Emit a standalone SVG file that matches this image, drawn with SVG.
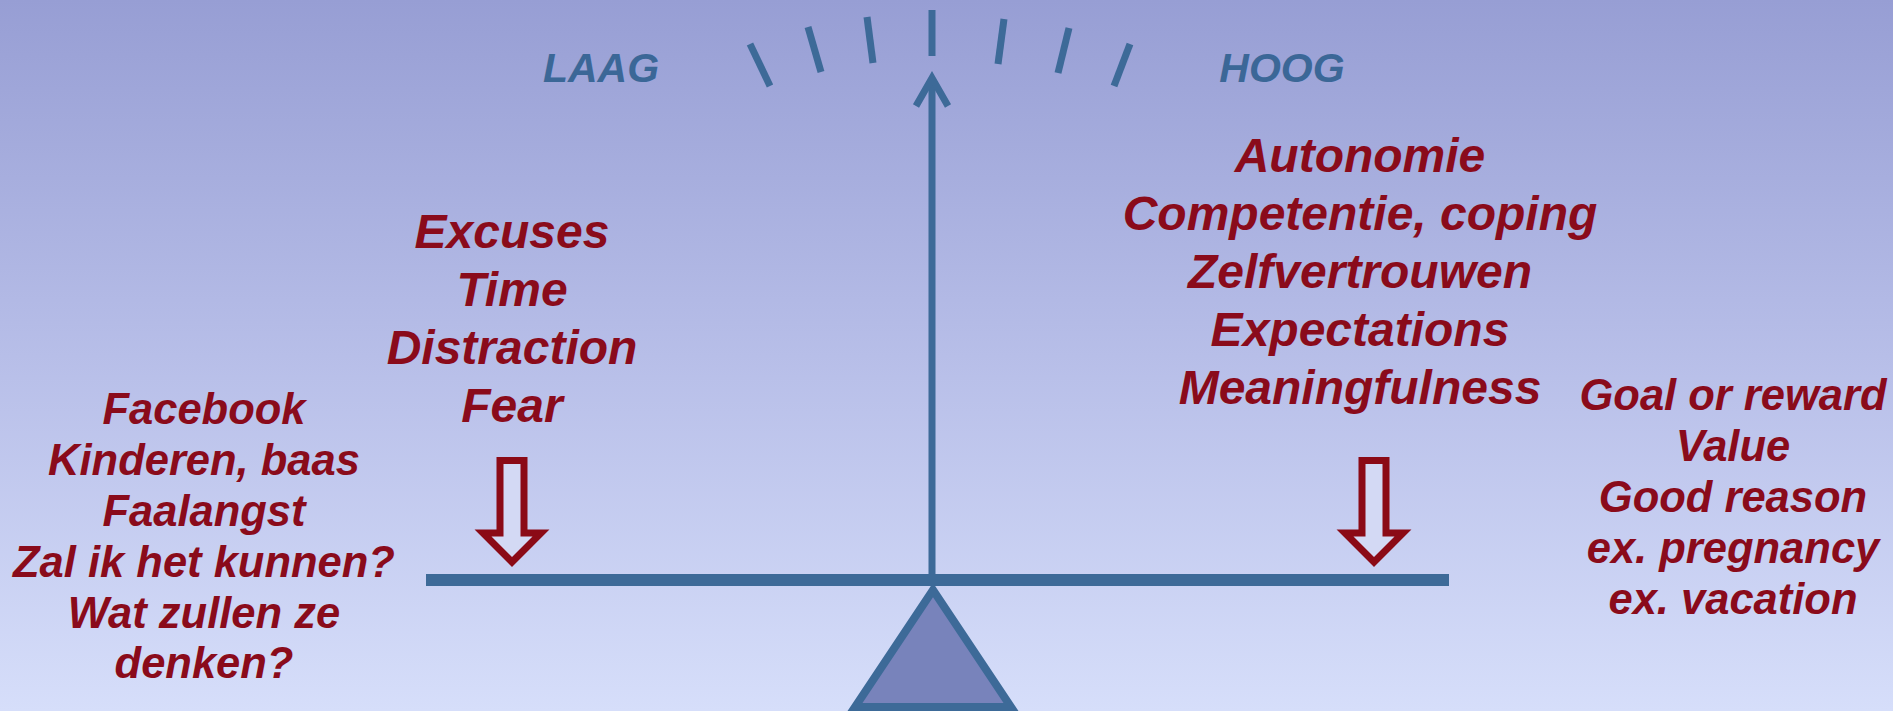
<svg xmlns="http://www.w3.org/2000/svg" width="1893" height="711" viewBox="0 0 1893 711">
  <defs>
    <linearGradient id="bg" x1="0" y1="0" x2="0" y2="1">
      <stop offset="0" stop-color="#979ed4"/>
      <stop offset="0.5" stop-color="#b7bee8"/>
      <stop offset="1" stop-color="#d6defa"/>
    </linearGradient>
    <style>
      .red { font-family: "Liberation Sans", Arial, sans-serif; font-weight: bold; font-style: italic; fill: #8a0b1b; text-anchor: middle; }
      .big { font-size: 48px; }
      .mid { font-size: 43.5px; }
      .blue { font-family: "Liberation Sans", Arial, sans-serif; font-weight: bold; font-style: italic; fill: #3b6797; text-anchor: middle; font-size: 41px; }
      .tick { stroke: #3d6a98; stroke-width: 7; stroke-linecap: butt; fill: none; }
      .bar { stroke: #3d6a98; fill: none; }
      .blk { fill: #d3d9f4; stroke: #8b0a16; stroke-width: 7; stroke-linejoin: miter; }
    </style>
  </defs>
  <rect x="0" y="0" width="1893" height="711" fill="url(#bg)"/>

  <g id="scale-ticks">
    <line class="tick" x1="750" y1="44" x2="770" y2="86"/>
    <line class="tick" x1="808" y1="27" x2="821" y2="72"/>
    <line class="tick" x1="867" y1="17" x2="873" y2="63"/>
    <line class="tick" x1="932" y1="10" x2="932" y2="56"/>
    <line class="tick" x1="1004" y1="19" x2="998" y2="64"/>
    <line class="tick" x1="1069" y1="28" x2="1058" y2="73"/>
    <line class="tick" x1="1130" y1="44" x2="1114" y2="86"/>
  </g>

  <g id="label-laag"><text class="blue" x="601" y="82">LAAG</text></g>
  <g id="label-hoog"><text class="blue" x="1282" y="82">HOOG</text></g>

  <g id="connectors">
    <line class="bar" x1="932" y1="80" x2="932" y2="576" stroke-width="7"/>
    <polyline class="bar" points="916,106 932,78 948,106" stroke-width="7" stroke-linejoin="miter"/>
  </g>

  <g id="fulcrum">
    <polygon points="933,590 855,707 1011,707" fill="#7883bb" stroke="#3d6a98" stroke-width="8" stroke-linejoin="miter"/>
  </g>

  <g id="beam">
    <line class="bar" x1="426" y1="580" x2="1449" y2="580" stroke-width="12"/>
  </g>

  <g id="arrow-left">
    <path class="blk" d="M500,460.5 L524,460.5 L524,533 L541,533 L512,562 L483,533 L500,533 Z"/>
  </g>
  <g id="arrow-right">
    <path class="blk" d="M1362,460.5 L1386,460.5 L1386,533 L1403,533 L1374,562 L1345,533 L1362,533 Z"/>
  </g>

  <g id="text-barriers">
    <text class="red big" x="512" y="248">Excuses</text>
    <text class="red big" x="512" y="306">Time</text>
    <text class="red big" x="512" y="364">Distraction</text>
    <text class="red big" x="512" y="422">Fear</text>
  </g>

  <g id="text-examples-left">
    <text class="red mid" x="204" y="424">Facebook</text>
    <text class="red mid" x="204" y="475">Kinderen, baas</text>
    <text class="red mid" x="204" y="526">Faalangst</text>
    <text class="red mid" x="204" y="577">Zal ik het kunnen?</text>
    <text class="red mid" x="204" y="628">Wat zullen ze</text>
    <text class="red mid" x="204" y="678">denken?</text>
  </g>

  <g id="text-motivators">
    <text class="red big" x="1360" y="172">Autonomie</text>
    <text class="red big" x="1360" y="230">Competentie, coping</text>
    <text class="red big" x="1360" y="288">Zelfvertrouwen</text>
    <text class="red big" x="1360" y="346">Expectations</text>
    <text class="red big" x="1360" y="404">Meaningfulness</text>
  </g>

  <g id="text-examples-right">
    <text class="red mid" x="1733" y="410">Goal or reward</text>
    <text class="red mid" x="1733" y="461">Value</text>
    <text class="red mid" x="1733" y="512">Good reason</text>
    <text class="red mid" x="1733" y="563">ex. pregnancy</text>
    <text class="red mid" x="1733" y="614">ex. vacation</text>
  </g>
</svg>
